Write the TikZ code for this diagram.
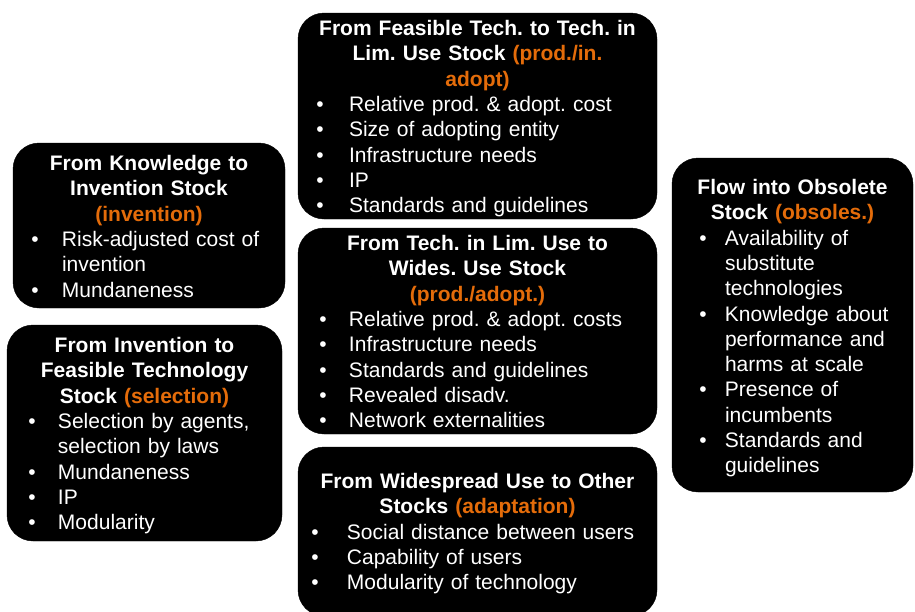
\documentclass[tikz,border=0pt]{standalone}
\usepackage{fontspec}
\setmainfont{Liberation Sans}
\definecolor{flowtag}{HTML}{E46C0A}
\frenchspacing

% bullet layout: \bulL = bullet start, \bulH = hanging width up to the text
\newlength\bulL
\newlength\bulH
\newcommand\indents[2]{\setlength\bulL{#1pt}\setlength\bulH{#2pt}}
\newcommand\head[1]{{\centering\bfseries\strut #1\par}}
\newcommand\bul[1]{\par\raggedright\leftskip=\bulL\hangindent=\bulH\hangafter=1%
  \noindent\makebox[\bulH][l]{\textbullet}#1\par}
\newcommand\tagw[1]{\textcolor{flowtag}{#1}}

\begin{document}
\begin{tikzpicture}[x=1pt,y=-1pt,
  card/.style={fill=black, draw=black, rounded corners=26pt, inner sep=0pt, outer sep=0pt},
  txt/.style={text=white, inner sep=0pt, outer sep=0pt, anchor=north,
    font=\fontsize{21}{25.3}\selectfont}]
\useasboundingbox (0,0) rectangle (915,611);

% flow boxes
\node[card, minimum width=272pt, minimum height=165pt] (k2i) at (149,225.5) {};
\node[card, minimum width=275pt, minimum height=216pt] (i2f) at (144.5,433) {};
\node[card, minimum width=359pt, minimum height=206pt] (f2l) at (477.5,116) {};
\node[card, minimum width=359pt, minimum height=206pt] (l2w) at (477.5,331) {};
\node[card, minimum width=359pt, minimum height=169pt] (w2o) at (477.5,531.5) {};
\node[card, minimum width=241pt, minimum height=334pt] (obs) at (792.5,325) {};

% box contents
\node[txt, text width=272pt] (k2iText) at ([yshift=-9.8pt]k2i.north) {%
  \indents{18.3}{30.7}%
  \head{From Knowledge to\\Invention Stock\\\tagw{(invention)}}%
  \bul{Risk-adjusted cost of\hfil\break invention}%
  \bul{Mundaneness}};

\node[txt, text width=275pt] (i2fText) at ([yshift=-9.8pt]i2f.north) {%
  \indents{21.3}{29.7}%
  \head{From Invention to\\Feasible Technology\\Stock \tagw{(selection)}}%
  \bul{Selection by agents,\hfil\break selection by laws}%
  \bul{Mundaneness}%
  \bul{IP}%
  \bul{Modularity}};

\node[txt, text width=359pt] (f2lText) at ([yshift=-4.8pt]f2l.north) {%
  \indents{18.3}{32.7}%
  \head{From Feasible Tech. to Tech. in\\Lim. Use Stock \tagw{(prod./in.}\\\tagw{adopt)}}%
  \bul{Relative prod. \& adopt. cost}%
  \bul{Size of adopting entity}%
  \bul{Infrastructure needs}%
  \bul{IP}%
  \bul{Standards and guidelines}};

\node[txt, text width=359pt] (l2wText) at ([yshift=-4.8pt]l2w.north) {%
  \indents{21.3}{29.7}%
  \head{From Tech. in Lim. Use to\\Wides. Use Stock\\\tagw{(prod./adopt.)}}%
  \bul{Relative prod. \& adopt. costs}%
  \bul{Infrastructure needs}%
  \bul{Standards and guidelines}%
  \bul{Revealed disadv.}%
  \bul{Network externalities}};

\node[txt, text width=359pt] (w2oText) at ([yshift=-23.8pt]w2o.north) {%
  \indents{13.3}{35.7}%
  \head{From Widespread Use to Other\\Stocks \tagw{(adaptation)}}%
  \bul{Social distance between users}%
  \bul{Capability of users}%
  \bul{Modularity of technology}};

\node[txt, text width=241pt] (obsText) at ([yshift=-18.8pt]obs.north) {%
  \indents{27.3}{25.7}%
  \head{Flow into Obsolete\\Stock \tagw{(obsoles.)}}%
  \bul{Availability of\hfil\break substitute\hfil\break technologies}%
  \bul{Knowledge about\hfil\break performance and\hfil\break harms at scale}%
  \bul{Presence of\hfil\break incumbents}%
  \bul{Standards and\hfil\break guidelines}};
\end{tikzpicture}
\end{document}
